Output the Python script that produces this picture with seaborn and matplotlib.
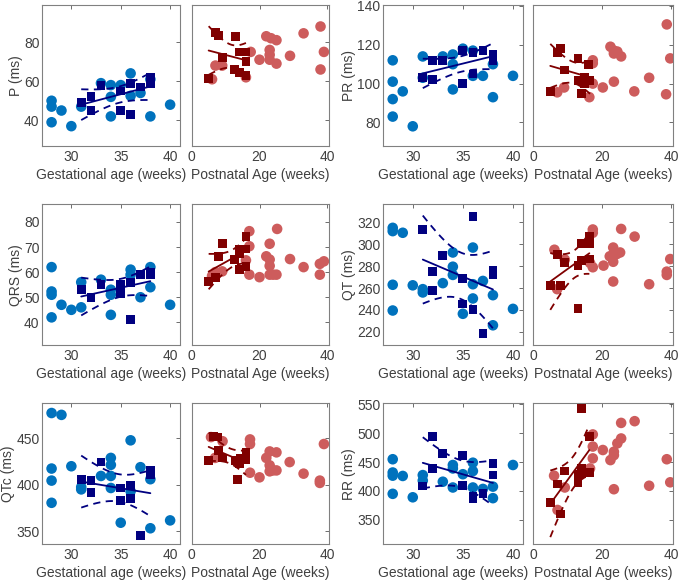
import numpy as np
import matplotlib
matplotlib.use('Agg')
import matplotlib.pyplot as plt
import seaborn as sns

# Values.
# ga = gestational age panel, pn = postnatal age panel
# c = circles (light), s = squares (dark)

P_ga_cx = [28, 28, 28, 29, 30, 31, 33, 34, 34, 34, 35, 36, 36, 37, 38, 38, 40]
P_ga_cy = [50, 47, 39, 45, 37, 47, 59, 58, 52, 42, 58, 64, 52.5, 54, 61, 42, 48]
P_ga_sx = [31, 32, 32, 33, 35, 35, 36, 36, 37, 38, 38]
P_ga_sy = [49, 52, 45, 58, 55, 45, 59, 43, 57, 62, 59]
P_pn_cx = [6, 7, 9, 16, 17.4, 20, 22, 23.4, 25, 23, 23, 23, 25, 29, 33, 38, 39, 38]
P_pn_cy = [61, 68, 68, 62, 75, 71, 83, 82, 81, 76, 73.5, 71, 69, 73, 84.5, 88, 75, 66]
P_pn_sx = [5, 7, 8, 13, 9, 12.7, 14, 14, 16, 16, 16]
P_pn_sy = [61.5, 85, 83.5, 83, 72, 66, 64.5, 75, 75, 70, 63]

PR_ga_cx = [28, 28, 28, 28, 29, 30, 31, 31, 33, 34, 34, 34, 35, 36, 36, 37, 38, 38, 40]
PR_ga_cy = [112, 101, 92, 83, 96, 78, 114, 103, 114, 115, 110, 97, 118, 117, 104, 104, 110, 93, 104]
PR_ga_sx = [31, 32, 32, 33, 35, 35, 36, 36, 37, 38, 38]
PR_ga_sy = [103, 112, 102, 112, 117, 100, 116, 105, 117, 115, 112]
PR_pn_cx = [7, 9, 17.3, 17.3, 17.3, 16.3, 20.2, 22.4, 23.4, 24.4, 23.4, 25.5, 23.4, 29.3, 33.6, 38.7, 39.7, 38.5]
PR_pn_cy = [95.5, 98, 112, 110.5, 100, 93, 98, 119, 117, 116.5, 115.5, 114, 101, 96, 103, 130.5, 113, 94.5]
PR_pn_sx = [5, 7, 8, 9, 13, 16, 13, 15, 16.5, 14, 15]
PR_pn_sy = [96, 116, 118, 107, 113, 110, 101.5, 103, 101.5, 95, 100]

QRS_ga_cx = [28, 28, 28, 28, 29, 30, 31, 31, 33, 34, 34, 34, 36, 36, 37, 38, 38, 40]
QRS_ga_cy = [62, 52.3, 51, 42, 47, 45, 56, 46, 57, 53, 51, 43, 61, 59, 50, 62, 54, 47]
QRS_ga_sx = [31, 32, 33, 35, 35, 35, 36, 36, 37, 38, 38]
QRS_ga_sy = [53, 50, 55, 55, 53, 51.5, 56, 41, 59, 60, 59]
QRS_pn_cx = [6, 7, 9, 17, 17, 16, 17, 20, 23, 22, 23, 23, 23, 24, 25, 25.2, 29, 33, 37.8, 39, 37.8]
QRS_pn_cy = [58.5, 60, 60.3, 76.3, 70.3, 64.7, 59, 58, 71.3, 66.3, 65, 62.5, 59, 59, 59, 77.2, 65.2, 62, 63.3, 64.3, 59]
QRS_pn_sx = [5, 7, 8, 9, 12.7, 14, 14, 14, 16, 16, 16]
QRS_pn_sy = [56.3, 58, 66.3, 71.3, 65, 69.2, 61.2, 67.3, 74.3, 69.2, 62.3]

QT_ga_cx = [28, 28, 28, 28, 29, 30, 31, 31, 33, 34, 34, 34, 35, 36, 36, 36, 37, 38, 38, 40]
QT_ga_cy = [315, 312, 263, 239.5, 310.5, 262.5, 259, 256, 264.5, 292.5, 279.5, 272, 236.5, 297, 263.5,
            250.5, 266.5, 253.5, 226, 241]
QT_ga_sx = [31, 32, 32, 33, 35, 35, 36, 36, 37, 38, 38]
QT_ga_sy = [313.5, 275, 257.5, 289.5, 269, 245.5, 325, 240.5, 218.5, 276, 272.5]
QT_pn_cx = [6.2, 7, 9.2, 17.3, 17.3, 16.5, 17.3, 20.4, 23.2, 23.2, 23.2, 24.2, 25.2, 22.2, 23.2, 25.5,
            29.4, 33.6, 38.7, 38.7, 39.7]
QT_pn_cy = [295, 259, 286, 313.5, 310.5, 283, 279, 280.5, 297, 290.5, 284, 291, 292.5, 289, 266, 314,
            307, 263.5, 275, 272, 286.5]
QT_pn_sx = [5, 7, 8, 9, 13, 13, 14, 14, 16.3, 16.3, 16.3]
QT_pn_sy = [262.5, 291, 262.5, 283.5, 280.5, 241, 301, 285, 307, 301, 286.5]

QTc_ga_cx = [28, 29, 28, 28, 28, 30, 31, 31, 33, 34, 34, 34, 34, 35, 36, 36, 37, 38, 38, 40]
QTc_ga_cy = [477.5, 475.5, 417.5, 404.5, 380.5, 420, 397.5, 395, 409.5, 429, 421.5, 409.5, 396.5, 359,
             448, 393, 419, 406, 353, 361.5]
QTc_ga_sx = [31, 32, 32, 33, 35, 35, 36, 36, 37, 38, 38]
QTc_ga_sy = [405.5, 404.5, 391.5, 424.5, 396.5, 383, 399.5, 385.5, 345.5, 415.5, 411]
QTc_pn_cx = [5.7, 6.9, 9.1, 17.2, 17.2, 17.2, 20, 23, 22, 23, 23, 24, 25, 25, 28.9, 33, 39, 37.8, 37.8]
QTc_pn_cy = [451.5, 429, 447, 449, 444, 413, 408, 436, 429, 421, 414.5, 415.5, 435, 415.5, 424.5, 412,
             444, 404.5, 402]
QTc_pn_sx = [5, 6.5, 7.5, 8, 9, 13, 13.5, 14.5, 16, 16, 14]
QTc_pn_sy = [426.5, 452.5, 451.5, 437, 429, 426.5, 406, 429, 435.5, 427.5, 423]

RR_ga_cx = [28, 28, 28, 28, 29, 30, 31, 31, 33, 34, 34, 34, 35, 36, 36, 36, 37, 38, 38, 40]
RR_ga_cy = [455, 432, 426.5, 395, 426, 389, 427.5, 418, 416, 445, 439, 406, 429, 449, 434.5, 406, 403.5,
            407.5, 387.5, 445]
RR_ga_sx = [31, 32, 32, 33, 35, 35, 36, 36, 37, 38, 38]
RR_ga_sy = [408.5, 494, 439, 465, 462, 409, 387.5, 391, 396, 448, 427.5]
RR_pn_cx = [6.1, 7.1, 9.2, 17.3, 17.3, 17.3, 16.5, 20.2, 23.4, 23.4, 22.4, 24.4, 25.5, 25.5, 23.4, 29.4,
            33.6, 38.7, 39.7]
RR_pn_cy = [426.5, 367, 406, 498, 477, 456.5, 439, 471, 468, 462, 453.5, 482.5, 491, 518, 403, 521, 409,
            455, 415]
RR_pn_sx = [5, 7, 8, 9, 13, 13, 14, 14, 16.3, 16.3, 14]
RR_pn_sy = [380, 412, 360, 434.5, 429, 415, 543, 439, 495, 432.5, 430]

# Axis settings
ylabels = ['P (ms)', 'PR (ms)', 'QRS (ms)', 'QT (ms)', 'QTc (ms)', 'RR (ms)']
ylims = [(27, 99), (68, 140.5), (31, 87), (208, 336.5), (336, 488), (308, 552)]
yticks = [[40, 60, 80], [80, 100, 120, 140], [40, 50, 60, 70, 80],
          [220, 240, 260, 280, 300, 320], [350, 400, 450], [350, 400, 450, 500, 550]]

BLUE = '#0072BD'
NAVY = '#000080'
PINK = '#CD5C5C'
MAROON = '#800000'
TXT = '#404040'

# two-sided 95% t quantiles
T975 = {7: 2.365, 8: 2.306, 9: 2.262, 10: 2.228, 11: 2.201, 12: 2.179}


def fit_band(x, y):
    x = np.asarray(x, float)
    y = np.asarray(y, float)
    n = len(x)
    b1, b0 = np.polyfit(x, y, 1)
    xs = np.linspace(x.min(), x.max(), 60)
    yhat = b0 + b1 * xs
    s = np.sqrt(np.sum((y - (b0 + b1 * x)) ** 2) / (n - 2))
    sxx = np.sum((x - x.mean()) ** 2)
    h = T975[n - 2] * s * np.sqrt(1.0 / n + (xs - x.mean()) ** 2 / sxx)
    return xs, yhat, yhat - h, yhat + h


def panel(ax, cx, cy, sx, sy, light, dark):
    sns.scatterplot(x=cx, y=cy, ax=ax, color=light, s=58, marker='o',
                    edgecolor='none', linewidth=0, legend=False, zorder=2)
    sns.scatterplot(x=sx, y=sy, ax=ax, color=dark, s=40, marker='s',
                    edgecolor='none', linewidth=0, legend=False, zorder=3)
    xs, yh, lo, hi = fit_band(sx, sy)
    ax.plot(xs, yh, color=dark, lw=1.3, zorder=4)
    ax.plot(xs, lo, color=dark, lw=1.3, ls=(0, (4, 3)), zorder=4)
    ax.plot(xs, hi, color=dark, lw=1.3, ls=(0, (4, 3)), zorder=4)


sns.set_style('white')
plt.rcParams['font.family'] = ['Liberation Sans', 'DejaVu Sans']
plt.rcParams['font.size'] = 10

fig = plt.figure(figsize=(6.78, 5.82), dpi=100)
W, H = 678.0, 582.0
col_left = [41.7, 191.7, 382.7, 533.0]
col_w = [138.3, 137.3, 140.3, 140.0]
row_top = [5.0, 204.3, 403.3]
row_h = 140.7

series = [
    (P_ga_cx, P_ga_cy, P_ga_sx, P_ga_sy, P_pn_cx, P_pn_cy, P_pn_sx, P_pn_sy),
    (PR_ga_cx, PR_ga_cy, PR_ga_sx, PR_ga_sy, PR_pn_cx, PR_pn_cy, PR_pn_sx, PR_pn_sy),
    (QRS_ga_cx, QRS_ga_cy, QRS_ga_sx, QRS_ga_sy, QRS_pn_cx, QRS_pn_cy, QRS_pn_sx, QRS_pn_sy),
    (QT_ga_cx, QT_ga_cy, QT_ga_sx, QT_ga_sy, QT_pn_cx, QT_pn_cy, QT_pn_sx, QT_pn_sy),
    (QTc_ga_cx, QTc_ga_cy, QTc_ga_sx, QTc_ga_sy, QTc_pn_cx, QTc_pn_cy, QTc_pn_sx, QTc_pn_sy),
    (RR_ga_cx, RR_ga_cy, RR_ga_sx, RR_ga_sy, RR_pn_cx, RR_pn_cy, RR_pn_sx, RR_pn_sy),
]

for i, d in enumerate(series):
    row, pair = i // 2, i % 2
    top = row_top[row]
    bottom = 1 - (top + row_h) / H
    for j in range(2):
        c = pair * 2 + j
        ax = fig.add_axes([col_left[c] / W, bottom, col_w[c] / W, row_h / H])
        if j == 0:
            panel(ax, d[0], d[1], d[2], d[3], BLUE, NAVY)
            ax.set_xlim(27, 41)
            ax.set_xticks([30, 35, 40])
            ax.set_xlabel('Gestational age (weeks)', color=TXT, fontsize=10, labelpad=3)
            ax.set_ylabel(ylabels[i], color=TXT, fontsize=10, labelpad=1)
        else:
            panel(ax, d[4], d[5], d[6], d[7], PINK, MAROON)
            ax.set_xlim(0, 40.5)
            ax.set_xticks([0, 20, 40])
            ax.set_xlabel('Postnatal Age (weeks)', color=TXT, fontsize=10, labelpad=3)
            ax.set_ylabel('')
            ax.tick_params(labelleft=False)
        ax.set_ylim(*ylims[i])
        ax.set_yticks(yticks[i])
        ax.tick_params(direction='in', top=True, right=True, length=3,
                       width=0.6, colors='#555555', labelcolor=TXT, labelsize=10, pad=3)
        ax.tick_params(axis='y', pad=1.5)
        for sp in ax.spines.values():
            sp.set_visible(True)
            sp.set_color('#808080')
            sp.set_linewidth(0.8)

fig.savefig('out.png', dpi=100)
